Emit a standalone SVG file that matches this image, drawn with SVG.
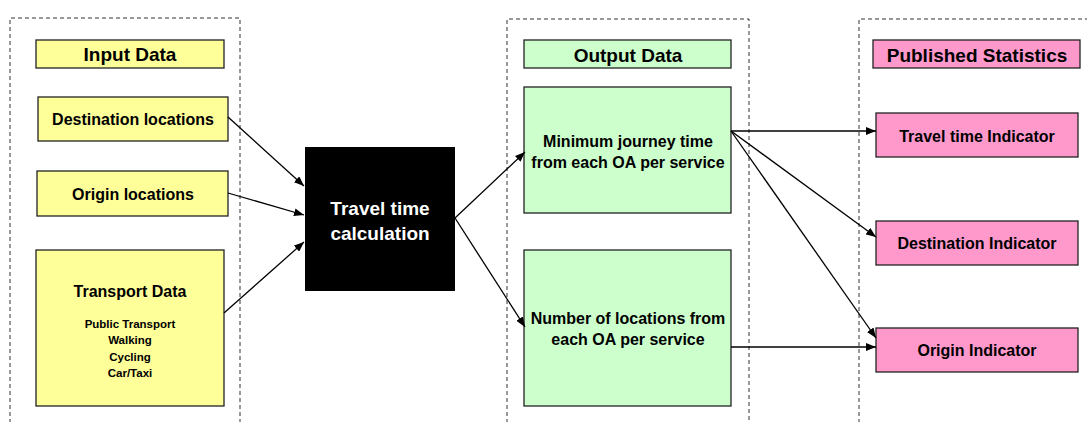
<svg xmlns="http://www.w3.org/2000/svg" width="1087" height="422" viewBox="0 0 1087 422">
<style>
text{font-family:"Liberation Sans",Arial,sans-serif;font-weight:bold;fill:#000;text-anchor:middle;dominant-baseline:central}
.cont{fill:none;stroke:#333;stroke-width:1;stroke-dasharray:4,3}
.box{stroke:#222;stroke-width:1.3}
.y{fill:#FFFF99}.g{fill:#CCFFCC}.p{fill:#FF99CC}
.t19{font-size:19px}.t16{font-size:16px}.t11{font-size:11.5px}
.conn line{stroke:#000;stroke-width:1.3;marker-end:url(#ah)}
</style>
<defs>
<marker id="ah" viewBox="0 0 10 8" refX="10" refY="4" markerWidth="10" markerHeight="8" markerUnits="userSpaceOnUse" orient="auto">
<path d="M0,0 L10,4 L0,8 Z" fill="#000"/>
</marker>
</defs>
<rect width="1087" height="422" fill="#fff"/>
<g id="containers">
<path class="cont" d="M10,430 V18 H240 V430"/>
<path class="cont" d="M507,430 V19 H749 V430"/>
<path class="cont" d="M859,430 V19 H1095"/>
</g>
<g id="input-data"><rect class="box y" x="36" y="40" width="188" height="28"/><text class="t19" x="130" y="54">Input Data</text></g>
<g id="destination-locations"><rect class="box y" x="38" y="97" width="190" height="44"/><text class="t16" x="133" y="119">Destination locations</text></g>
<g id="origin-locations"><rect class="box y" x="37" y="171" width="191" height="45"/><text class="t16" x="133" y="194">Origin locations</text></g>
<g id="transport-data"><rect class="box y" x="36" y="250" width="188" height="156"/>
<text class="t16" x="130" y="291">Transport Data</text>
<text class="t11" x="130" y="324">Public Transport</text>
<text class="t11" x="130" y="340">Walking</text>
<text class="t11" x="130" y="357">Cycling</text>
<text class="t11" x="130" y="373">Car/Taxi</text></g>
<g id="travel-time-calculation"><rect x="305" y="147" width="150" height="144" fill="#000"/>
<text class="t19" x="380" y="208" style="fill:#fff">Travel time</text>
<text class="t19" x="380" y="233" style="fill:#fff">calculation</text></g>
<g id="output-data"><rect class="box g" x="524" y="40" width="207" height="28"/><text class="t19" x="628" y="55">Output Data</text></g>
<g id="minimum-journey-time"><rect class="box g" x="524" y="87" width="207" height="126"/>
<text class="t16" x="628" y="141">Minimum journey time</text>
<text class="t16" x="628" y="162">from each OA per service</text></g>
<g id="number-of-locations"><rect class="box g" x="524" y="250" width="207" height="156"/>
<text class="t16" x="628" y="318">Number of locations from</text>
<text class="t16" x="628" y="339">each OA per service</text></g>
<g id="published-statistics"><rect class="box p" x="873" y="40" width="207" height="28"/><text class="t19" x="977" y="55">Published Statistics</text></g>
<g id="travel-time-indicator"><rect class="box p" x="876" y="113" width="202" height="44"/><text class="t16" x="977" y="136">Travel time Indicator</text></g>
<g id="destination-indicator"><rect class="box p" x="876" y="221" width="202" height="44"/><text class="t16" x="977" y="243">Destination Indicator</text></g>
<g id="origin-indicator"><rect class="box p" x="876" y="328" width="202" height="44"/><text class="t16" x="977" y="350">Origin Indicator</text></g>
<g id="connectors" class="conn">
<line x1="228" y1="117" x2="304" y2="186"/>
<line x1="228" y1="193" x2="304" y2="215"/>
<line x1="224" y1="313" x2="304" y2="242"/>
<line x1="455" y1="218" x2="525" y2="152"/>
<line x1="455" y1="218" x2="525" y2="327"/>
<line x1="731" y1="131" x2="876" y2="131"/>
<line x1="731" y1="131" x2="876" y2="237"/>
<line x1="731" y1="131" x2="876" y2="338"/>
<line x1="731" y1="347" x2="876" y2="347"/>
</g>
</svg>
